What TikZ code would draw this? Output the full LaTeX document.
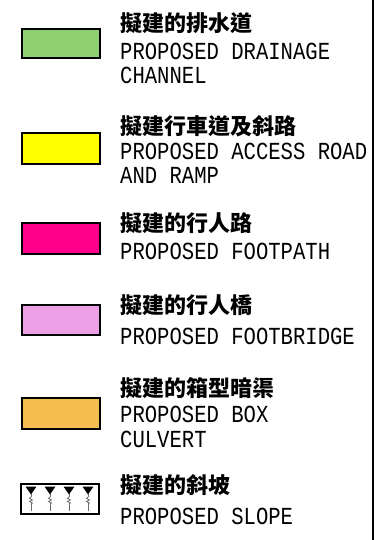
\documentclass[tikz,border=0pt]{standalone}
\usepackage{fontspec}
\newfontfamily\cjk{Noto Sans CJK TC}
\newfontfamily\cad{Liberation Mono}[FakeStretch=0.84]
\definecolor{cgreen}{RGB}{143,208,112}
\definecolor{cyellow}{RGB}{255,255,0}
\definecolor{cmagenta}{RGB}{255,0,140}
\definecolor{cviolet}{RGB}{238,160,230}
\definecolor{corange}{RGB}{245,188,80}
\definecolor{tickgray}{RGB}{110,110,110}
\begin{document}
\begin{tikzpicture}[x=1pt,y=-1pt,
  swatch/.style={draw=black,line width=1.5pt},
  zh/.style={anchor=west,inner sep=0pt,font=\cjk\bfseries\fontsize{22}{22}\selectfont},
  en/.style={anchor=west,inner sep=0pt,font=\cad\fontsize{24.5}{24.5}\selectfont}]
\useasboundingbox (0,0) rectangle (382,540);
\fill[white] (0,0) rectangle (382,540);
\draw[line width=2pt] (373,0) -- (373,540);
% row 1
\filldraw[swatch,fill=cgreen] (22,29) rectangle (100,58);
\node[zh] (t1) at (120,23.5) {擬建的排水道};
\node[en] (e1a) at (120,51) {PROPOSED DRAINAGE};
\node[en] (e1b) at (120,75) {CHANNEL};
% row 2
\filldraw[swatch,fill=cyellow] (22,133) rectangle (100,164);
\node[zh] (t2) at (120,126) {擬建行車道及斜路};
\node[en] (e2a) at (120,151) {PROPOSED ACCESS ROAD};
\node[en] (e2b) at (120,175) {AND RAMP};
% row 3
\filldraw[swatch,fill=cmagenta] (22,223) rectangle (100,254);
\node[zh] (t3) at (120,223) {擬建的行人路};
\node[en] (e3a) at (120,251) {PROPOSED FOOTPATH};
% row 4
\filldraw[swatch,fill=cviolet] (22,305) rectangle (100,335);
\node[zh] (t4) at (120,305) {擬建的行人橋};
\node[en] (e4a) at (120,336) {PROPOSED FOOTBRIDGE};
% row 5
\filldraw[swatch,fill=corange] (22,398) rectangle (100,429);
\node[zh] (t5) at (120,388) {擬建的箱型暗渠};
\node[en] (e5a) at (120,414) {PROPOSED BOX};
\node[en] (e5b) at (120,439) {CULVERT};
% row 6
\draw[line width=1.2pt] (21,484) rectangle (99,514);
\foreach \tx in {31,50,69,88}{
  \fill[black] (\tx-5.5,486.5) -- (\tx+5.5,486.5) -- (\tx,494.5) -- cycle;
  \draw[tickgray,line width=1pt] (\tx,494) -- (\tx,497);
  \draw[tickgray,line width=0.8pt] (\tx,497) -- (\tx-1.5,498.5) -- (\tx+1.5,500) -- (\tx-1.5,501.5) -- (\tx+1.5,503) -- (\tx,504);
  \draw[tickgray,line width=1pt] (\tx,504) -- (\tx,511);
}
\node[zh] (t6) at (120,485) {擬建的斜坡};
\node[en] (e6a) at (120,516) {PROPOSED SLOPE};
\end{tikzpicture}
\end{document}
